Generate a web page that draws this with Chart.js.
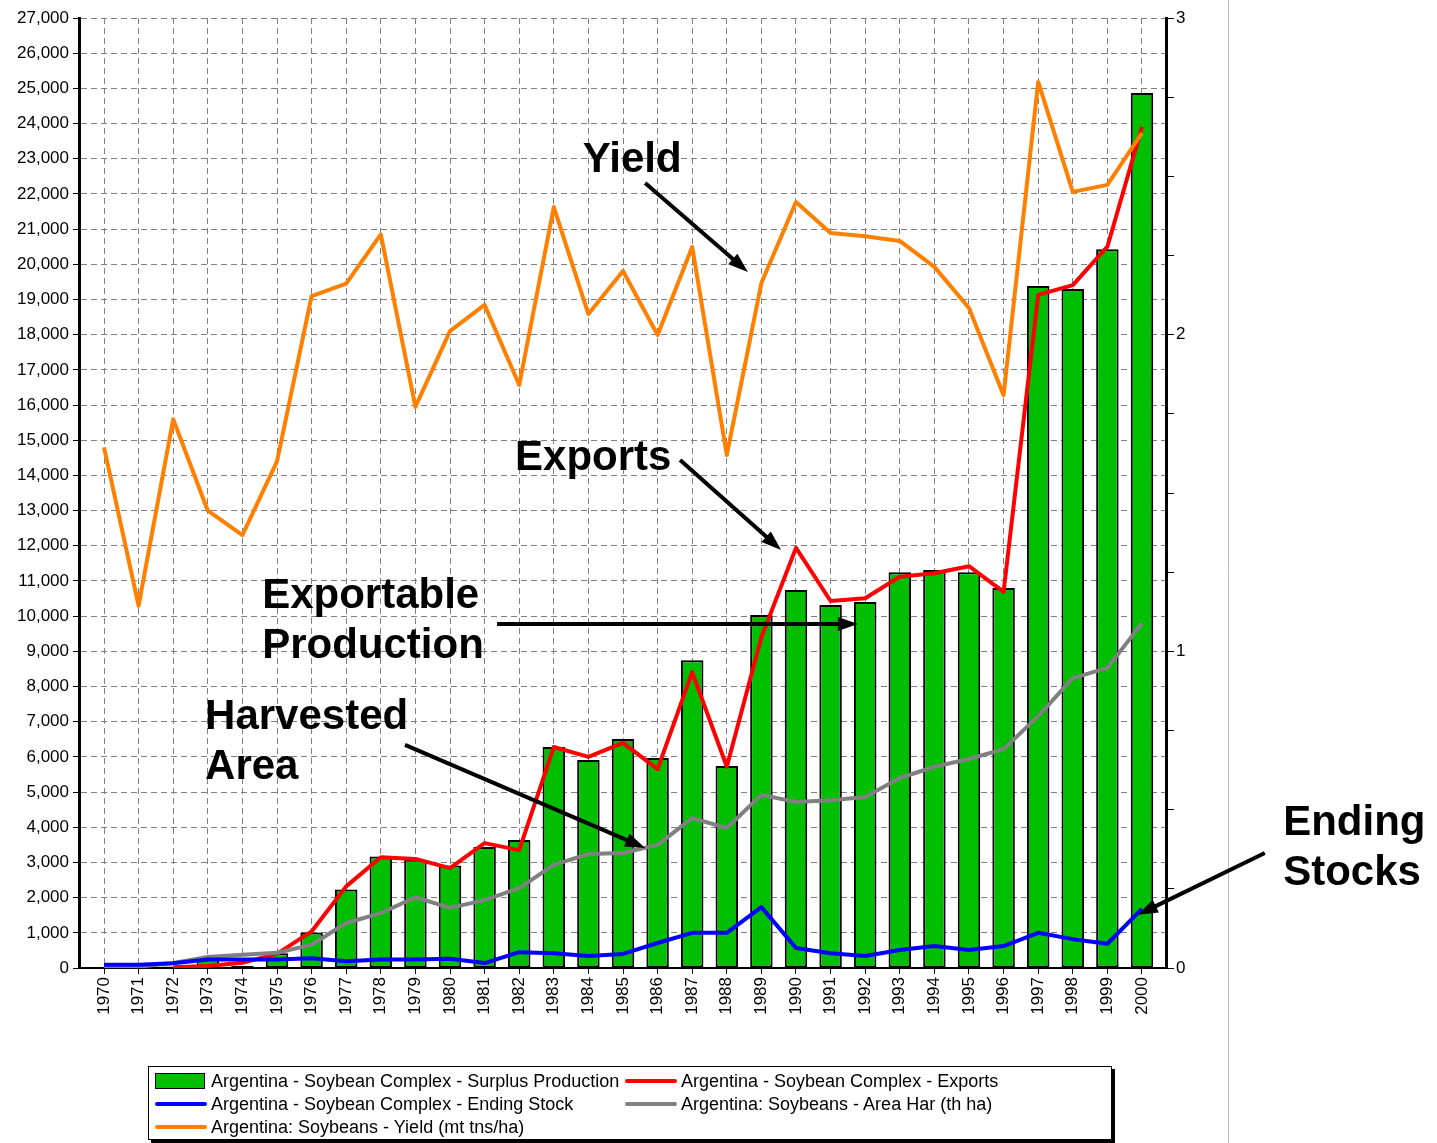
<!DOCTYPE html>
<html>
<head>
<meta charset="utf-8">
<script src="https://cdn.jsdelivr.net/npm/chart.js@4.4.1/dist/chart.umd.min.js"></script>
<style>
  body { margin: 0; background: #fff; overflow: hidden; }
  #wrap { position: relative; width: 1437px; height: 1143px; }
  #legend {
    position: absolute; left: 148px; top: 1066px; width: 962px; height: 72px;
    border: 1px solid #000; box-shadow: 3px 3px 0 #000; background: #fff;
    font: 18px "Liberation Sans", Arial, sans-serif; color: #000;
  }
  .item { position: absolute; height: 20px; display: flex; align-items: center; white-space: nowrap; }
  .sym { margin-right: 4px; }
</style>
</head>
<body>
<div id="wrap">
  <canvas id="soyChart" width="1437" height="1143"></canvas>
  <div id="legend"></div>
</div>
<script>
// categories
const years = [1970, 1971, 1972, 1973, 1974, 1975, 1976, 1977, 1978, 1979,
  1980, 1981, 1982, 1983, 1984, 1985, 1986, 1987, 1988, 1989,
  1990, 1991, 1992, 1993, 1994, 1995, 1996, 1997, 1998, 1999, 2000];

// left axis series (thousand mt / th ha)
const surplusProduction = [0, 0, 40, 240, 60, 420, 1010, 2230, 3170, 3080,
  2910, 3440, 3640, 6280, 5910, 6510, 5970, 8750, 5740, 10030,
  10740, 10320, 10400, 11250, 11310, 11250, 10800, 19380, 19300, 20430, 24870];
const exportsData = [null, null, 20, 60, 150, 400, 1040, 2320, 3150, 3100,
  2840, 3550, 3350, 6280, 6000, 6400, 5650, 8410, 5720, 9400,
  11940, 10430, 10510, 11120, 11220, 11420, 10690, 19130, 19410, 20500, 23910];
const endingStock = [95, 95, 135, 240, 240, 240, 280, 190, 240, 240,
  265, 140, 450, 420, 340, 400, 710, 1000, 1000, 1730,
  570, 420, 340, 510, 625, 510, 625, 1000, 820, 690, 1680];
const areaHarvested = [26, 37, 140, 313, 380, 430, 660, 1280, 1560, 2010,
  1710, 1930, 2270, 2930, 3240, 3270, 3500, 4260, 3980, 4920,
  4720, 4770, 4860, 5400, 5720, 5940, 6220, 7160, 8240, 8530, 9800];

// right axis series (mt/ha)
const yieldData = [1.644, 1.144, 1.733, 1.444, 1.367, 1.600, 2.122, 2.161, 2.317, 1.772,
  2.011, 2.094, 1.841, 2.403, 2.065, 2.201, 1.999, 2.277, 1.620, 2.163,
  2.419, 2.321, 2.311, 2.296, 2.214, 2.084, 1.809, 2.798, 2.451, 2.473, 2.637];

// axis ranges
const leftMax = 27000, leftStep = 1000;
const rightMax = 3, rightStep = 0.25;

// callout text and arrows, in data units (year, left-axis value)
const callouts = [
  { lines: ["Yield"], at: [1983.84, 22960], from: [1985.64, 22310], to: [1988.61, 19780] },
  { lines: ["Exports"], at: [1981.88, 14495], from: [1986.65, 14440], to: [1989.57, 11880] },
  { lines: ["Exportable", "Production"], at: [1974.57, 10570], from: [1981.36, 9780], to: [1991.79, 9780] },
  { lines: ["Harvested", "Area"], at: [1972.92, 7130], from: [1978.7, 6340], to: [1985.64, 3410] },
  { lines: ["Ending", "Stocks"], at: [2004.08, 4120], from: [2003.55, 3270], to: [1999.88, 1510] }
];

Chart.defaults.font.family = '"Liberation Sans", Arial, sans-serif';
Chart.defaults.color = "#000";

const frame = {
  id: "frame",
  beforeDraw(chart) {
    const ctx = chart.ctx;
    ctx.save();
    ctx.fillStyle = "#fff";
    ctx.fillRect(0, 0, chart.width, chart.height);
    ctx.strokeStyle = "#c0c0c0";
    ctx.lineWidth = 1;
    ctx.beginPath();
    ctx.moveTo(1228.5, 0);
    ctx.lineTo(1228.5, chart.height);
    ctx.stroke();
    ctx.restore();
  }
};

const calloutPlugin = {
  id: "callouts",
  afterDatasetsDraw(chart) {
    const { ctx, scales: { x, y } } = chart;
    ctx.save();
    ctx.fillStyle = "#000";
    ctx.strokeStyle = "#000";
    ctx.font = 'bold 42px "Liberation Sans", Arial, sans-serif';
    ctx.textBaseline = "middle";
    callouts.forEach((c) => {
      const px = x.getPixelForValue(c.at[0]);
      const py = y.getPixelForValue(c.at[1]);
      c.lines.forEach((t, i) => ctx.fillText(t, px, py + i * 50));

      const x1 = x.getPixelForValue(c.from[0]), y1 = y.getPixelForValue(c.from[1]);
      const x2 = x.getPixelForValue(c.to[0]), y2 = y.getPixelForValue(c.to[1]);
      const ang = Math.atan2(y2 - y1, x2 - x1);
      const head = 20, half = 7;
      ctx.lineWidth = 4;
      ctx.beginPath();
      ctx.moveTo(x1, y1);
      ctx.lineTo(x2 - Math.cos(ang) * head * 0.8, y2 - Math.sin(ang) * head * 0.8);
      ctx.stroke();
      ctx.beginPath();
      ctx.moveTo(x2, y2);
      ctx.lineTo(x2 - head * Math.cos(ang) + half * Math.sin(ang), y2 - head * Math.sin(ang) - half * Math.cos(ang));
      ctx.lineTo(x2 - head * Math.cos(ang) - half * Math.sin(ang), y2 - head * Math.sin(ang) + half * Math.cos(ang));
      ctx.closePath();
      ctx.fill();
    });
    ctx.restore();
  }
};

const lineSet = (label, data, color, order, axis) => ({
  type: "line",
  label: label,
  data: data,
  borderColor: color,
  backgroundColor: color,
  borderWidth: 4,
  pointRadius: 0,
  tension: 0,
  order: order,
  yAxisID: axis || "y",
  borderJoinStyle: "round"
});

const ctx = document.getElementById("soyChart").getContext("2d");
const chart = new Chart(ctx, {
  type: "line",
  data: {
    labels: years,
    datasets: [
      {
        type: "bar",
        label: "Argentina - Soybean Complex - Surplus Production",
        data: surplusProduction,
        backgroundColor: "#00bf00",
        borderColor: "#000",
        borderWidth: 2,
        borderSkipped: false,
        categoryPercentage: 1,
        barPercentage: 0.65,
        order: 10
      },
      lineSet("Argentina - Soybean Complex - Exports", exportsData, "#ff0000", 4),
      lineSet("Argentina - Soybean Complex - Ending Stock", endingStock, "#0000ff", 2),
      lineSet("Argentina: Soybeans - Area Har (th ha)", areaHarvested, "#808080", 3),
      lineSet("Argentina: Soybeans - Yield (mt tns/ha)", yieldData, "#ff8000", 1, "y1")
    ]
  },
  options: {
    responsive: false,
    animation: false,
    layout: { padding: { left: 0, top: 18, right: 241, bottom: 115 } },
    plugins: {
      legend: { display: false },
      tooltip: { enabled: false }
    },
    scales: {
      x: {
        type: "linear",
        min: 1969.277,
        max: 2000.694,
        offset: false,
        afterFit: (s) => { s.height = 60; },
        grid: { color: "#808080", offset: false, tickColor: "#000", tickLength: 6, tickBorderDash: [] },
        border: { color: "#000", width: 2, dash: [6, 4] },
        ticks: {
          stepSize: 1,
          includeBounds: false,
          autoSkip: false,
          maxTicksLimit: 40,
          minRotation: 90,
          maxRotation: 90,
          padding: 3,
          font: { size: 17 },
          callback: (v) => String(v)
        }
      },
      y: {
        position: "left",
        min: 0,
        max: leftMax,
        afterFit: (s) => { s.width = 79; },
        grid: {
          color: (c) => (c.tick && c.tick.value === 0 ? "rgba(0,0,0,0)" : "#808080"),
          tickColor: "#000",
          tickLength: 6,
          tickBorderDash: []
        },
        border: { color: "#000", width: 3, dash: [6, 4] },
        ticks: {
          stepSize: leftStep,
          padding: 4,
          font: { size: 17 },
          callback: (v) => v.toLocaleString("en-US")
        }
      },
      y1: {
        position: "right",
        min: 0,
        max: rightMax,
        afterFit: (s) => { s.width = 30; },
        grid: { drawOnChartArea: false, color: "#000", tickColor: "#000", tickLength: 8 },
        border: { color: "#000", width: 3 },
        ticks: {
          stepSize: rightStep,
          padding: 2,
          font: { size: 17 },
          callback: (v) => (Number.isInteger(v) ? String(v) : "")
        }
      }
    }
  },
  plugins: [frame, calloutPlugin]
});

// two-column legend box under the chart
const legendEl = document.getElementById("legend");
chart.data.datasets.forEach((ds, i) => {
  const item = document.createElement("div");
  item.className = "item";
  item.style.left = (i % 2 ? 476 : 6) + "px";
  item.style.top = (4 + Math.floor(i / 2) * 23) + "px";
  const sym = document.createElement("div");
  sym.className = "sym";
  if (ds.type === "bar") {
    sym.style.width = "48px";
    sym.style.height = "14px";
    sym.style.background = ds.backgroundColor;
    sym.style.border = "1px solid #000";
    sym.style.marginRight = "6px";
  } else {
    sym.style.width = "52px";
    sym.style.height = "4px";
    sym.style.borderRadius = "2px";
    sym.style.background = ds.borderColor;
  }
  const txt = document.createElement("span");
  txt.textContent = ds.label;
  item.appendChild(sym);
  item.appendChild(txt);
  legendEl.appendChild(item);
});
</script>
</body>
</html>
